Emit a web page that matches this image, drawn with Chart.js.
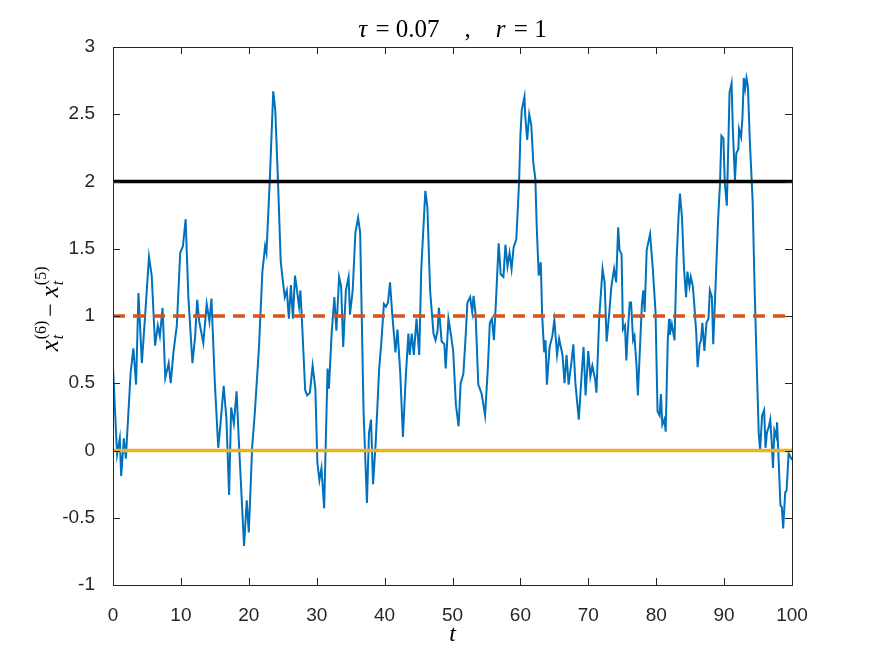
<!DOCTYPE html>
<html>
<head>
<meta charset="utf-8">
<script src="https://cdn.jsdelivr.net/npm/chart.js@4.4.0/dist/chart.umd.min.js"></script>
<style>
  body { margin: 0; background: #ffffff; }
  #wrap { width: 875px; height: 657px; }
</style>
</head>
<body>
<div id="wrap"><canvas id="grafico" width="875" height="657"></canvas></div>
<script>
// datos
const tVals = [
  0, 0.6, 1, 1.2, 1.6, 1.9, 2.1, 2.6, 3.0, 3.4, 3.75, 4.25, 4.7, 5.3, 5.7, 6.2, 6.6, 6.9, 7.3, 7.7,
  8.2, 8.5, 8.9, 9.4, 9.9, 10.3, 10.7, 11.1, 11.7, 12.1, 12.4, 12.7, 13.3, 13.8, 14.2, 14.5, 15.0, 15.5, 15.8, 16.3,
  16.7, 17.1, 17.4, 17.8, 18.2, 18.6, 19.3, 19.7, 20.0, 20.5, 20.9, 21.5, 22.0, 22.4, 22.6, 23.1, 23.6, 23.9, 24.3, 24.7,
  24.9, 25.3, 25.6, 25.9, 26.2, 26.5, 26.8, 27.1, 27.4, 27.6, 27.9, 28.3, 28.6, 29.0, 29.4, 29.8, 30.1, 30.4, 30.7, 31.1,
  31.6, 31.8, 32.2, 32.6, 32.9, 33.3, 33.6, 33.9, 34.3, 34.7, 34.9, 35.3, 35.7, 36.1, 36.4, 36.9, 37.4, 37.7, 38.0, 38.3,
  38.7, 39.2, 39.5, 39.9, 40.2, 40.5, 40.8, 41.1, 41.6, 41.9, 42.3, 42.7, 43.1, 43.5, 43.7, 44.0, 44.3, 44.7, 45.1, 45.4,
  46.0, 46.3, 46.7, 47.2, 47.5, 47.8, 48.0, 48.4, 48.8, 49.0, 49.4, 49.8, 50.1, 50.5, 50.9, 51.2, 51.6, 51.9, 52.2, 52.6,
  52.9, 53.1, 53.4, 53.8, 54.3, 54.8, 55.2, 55.5, 55.8, 56.1, 56.4, 56.8, 57.1, 57.5, 57.8, 58.1, 58.4, 58.7, 59.0, 59.4,
  59.8, 60.0, 60.2, 60.6, 60.7, 61.0, 61.3, 61.6, 61.9, 62.2, 62.4, 62.7, 63.0, 63.2, 63.5, 63.7, 63.9, 64.3, 64.7, 65.0,
  65.4, 65.7, 66.2, 66.5, 66.8, 67.1, 67.5, 67.8, 68.1, 68.6, 69.0, 69.3, 69.6, 70.0, 70.3, 70.6, 71.0, 71.2, 71.6, 72.1,
  72.4, 72.7, 73.1, 73.4, 73.8, 74.1, 74.4, 74.6, 74.9, 75.1, 75.4, 75.6, 75.8, 76.1, 76.3, 76.6, 76.8, 77.1, 77.3, 77.7,
  77.9, 78.1, 78.3, 78.6, 79.1, 79.5, 79.9, 80.2, 80.5, 80.7, 80.9, 81.2, 81.4, 81.7, 81.9, 82.0, 82.3, 82.7, 83.0, 83.3,
  83.5, 83.8, 84.1, 84.4, 84.6, 84.9, 85.1, 85.4, 85.6, 85.9, 86.1, 86.4, 86.6, 86.8, 87.1, 87.4, 87.7, 87.9, 88.2, 88.4,
  88.8, 89.1, 89.4, 89.6, 89.9, 90.1, 90.4, 90.6, 90.8, 91.1, 91.3, 91.6, 91.8, 92.1, 92.2, 92.5, 92.7, 92.9, 93.1, 93.3,
  93.5, 93.8, 94.2, 94.5, 94.9, 95.1, 95.3, 95.6, 95.9, 96.1, 96.3, 96.6, 96.8, 97.0, 97.2, 97.4, 97.7, 97.8, 98.0, 98.3,
  98.5, 98.7, 99.0, 99.2, 99.5, 99.8, 100
];
const diffVals = [
  0.62, -0.03, 0.09, -0.19, 0.09, -0.06, 0.13, 0.58, 0.76, 0.49, 1.17, 0.65, 0.98, 1.44, 1.30, 0.78, 0.93, 0.85, 1.06, 0.54,
  0.65, 0.50, 0.73, 0.93, 1.47, 1.52, 1.72, 1.14, 0.65, 0.85, 1.12, 0.96, 0.80, 1.09, 0.96, 1.13, 0.50, 0.02, 0.18, 0.48,
  0.24, -0.33, 0.32, 0.20, 0.44, 0.00, -0.71, -0.37, -0.61, 0.03, 0.29, 0.77, 1.33, 1.52, 1.47, 2.02, 2.67, 2.53, 2.00, 1.41,
  1.31, 1.14, 1.19, 0.98, 1.23, 0.98, 1.30, 1.19, 1.07, 1.19, 0.89, 0.45, 0.41, 0.43, 0.63, 0.46, -0.09, -0.22, -0.13, -0.43,
  0.61, 0.46, 0.87, 1.14, 0.89, 1.29, 1.22, 0.77, 1.19, 1.29, 1.01, 1.19, 1.62, 1.73, 1.62, 0.29, -0.39, 0.13, 0.23, -0.25,
  0.07, 0.61, 0.79, 1.09, 1.07, 1.10, 1.25, 1.03, 0.73, 0.90, 0.58, 0.10, 0.53, 0.87, 0.71, 0.87, 0.71, 0.98, 0.71, 1.35,
  1.93, 1.81, 1.19, 0.87, 0.82, 0.89, 1.06, 0.81, 0.79, 0.61, 0.98, 0.85, 0.74, 0.34, 0.18, 0.50, 0.57, 0.82, 1.10, 1.14,
  1.03, 1.15, 1.01, 0.49, 0.42, 0.26, 0.61, 0.95, 0.98, 0.82, 1.11, 1.54, 1.31, 1.29, 1.53, 1.37, 1.47, 1.35, 1.51, 1.57,
  1.99, 2.34, 2.53, 2.63, 2.50, 2.31, 2.50, 2.42, 2.14, 2.02, 1.67, 1.30, 1.40, 1.01, 0.73, 0.82, 0.49, 0.77, 0.85, 0.97,
  0.71, 0.83, 0.71, 0.50, 0.71, 0.49, 0.65, 0.79, 0.50, 0.23, 0.55, 0.77, 0.41, 0.74, 0.55, 0.63, 0.53, 0.43, 0.98, 1.35,
  1.25, 0.81, 1.03, 1.22, 1.35, 1.25, 1.66, 1.49, 1.46, 0.90, 0.93, 0.67, 0.87, 1.10, 1.10, 0.82, 0.85, 0.63, 0.41, 0.87,
  1.09, 1.19, 1.03, 1.49, 1.61, 1.35, 1.03, 0.29, 0.26, 0.42, 0.19, 0.23, 0.14, 0.82, 0.98, 0.86, 0.94, 0.82, 1.41, 1.75,
  1.91, 1.73, 1.35, 1.14, 1.33, 1.22, 1.29, 1.22, 1.09, 0.87, 0.62, 0.79, 0.82, 0.95, 0.74, 0.95, 0.98, 1.19, 1.14, 0.79,
  1.30, 1.70, 1.99, 2.34, 2.32, 1.99, 1.82, 2.23, 2.66, 2.73, 2.37, 2.01, 2.21, 2.24, 2.39, 2.33, 2.47, 2.77, 2.69, 2.77,
  2.71, 2.29, 1.86, 1.19, 0.47, 0.13, 0.00, 0.26, 0.30, 0.02, 0.13, 0.18, 0.23, 0.07, -0.13, 0.15, 0.10, 0.21, -0.03, -0.41,
  -0.42, -0.58, -0.31, -0.30, -0.02, -0.05, -0.07
];

// lineas de referencia (y = 2, 1, 0)
const refLevels = [2, 1, 0];
const xTicks = [0, 10, 20, 30, 40, 50, 60, 70, 80, 90, 100];
const yTicks = [-1, -0.5, 0, 0.5, 1, 1.5, 2, 2.5, 3];

const AXIS_COLOR = '#262626';
const serie = tVals.map((t, i) => ({ x: t, y: diffVals[i] }));
const linea = v => [{ x: 0, y: v }, { x: 100, y: v }];

// dibuja un texto con partes en cursiva / sub / superindice
function drawRuns(ctx, runs, x, y) {
  let cx = x;
  runs.forEach(r => {
    ctx.font = (r.i ? 'italic ' : '') + r.size + 'px "Liberation Serif", "DejaVu Serif", serif';
    ctx.fillText(r.t, cx, y + (r.dy || 0));
    if (!r.stack) cx += ctx.measureText(r.t).width + (r.gap || 0);
  });
  return cx - x;
}
function runsWidth(ctx, runs) {
  let w = 0;
  runs.forEach(r => {
    ctx.font = (r.i ? 'italic ' : '') + r.size + 'px "Liberation Serif", "DejaVu Serif", serif';
    if (!r.stack) w += ctx.measureText(r.t).width + (r.gap || 0);
  });
  return w;
}

// ejes estilo matlab: caja y marcas hacia dentro
const ejesPlugin = {
  id: 'ejes',
  afterDatasetsDraw(chart) {
    const { ctx, chartArea: a, scales } = chart;
    ctx.save();
    ctx.strokeStyle = AXIS_COLOR;
    ctx.lineWidth = 1;
    ctx.beginPath();
    const L = 7;
    xTicks.forEach(v => {
      const px = Math.round(scales.x.getPixelForValue(v)) + 0.5;
      ctx.moveTo(px, a.bottom); ctx.lineTo(px, a.bottom - L);
      ctx.moveTo(px, a.top); ctx.lineTo(px, a.top + L);
    });
    yTicks.forEach(v => {
      const py = Math.round(scales.y.getPixelForValue(v)) + 0.5;
      ctx.moveTo(a.left, py); ctx.lineTo(a.left + L, py);
      ctx.moveTo(a.right, py); ctx.lineTo(a.right - L, py);
    });
    ctx.stroke();
    ctx.strokeRect(Math.round(a.left) + 0.5, Math.round(a.top) + 0.5,
      Math.round(a.right - a.left), Math.round(a.bottom - a.top));
    ctx.restore();
  },
  afterDraw(chart) {
    const { ctx, chartArea: a } = chart;
    const cx = (a.left + a.right) / 2;
    ctx.save();
    ctx.fillStyle = '#000';
    ctx.textBaseline = 'alphabetic';
    ctx.textAlign = 'left';

    // titulo
    const titulo = [
      { t: 'τ', i: true, size: 25, gap: 2 },
      { t: ' = 0.07', size: 25 },
      { t: '    ,    ', size: 25 },
      { t: 'r', i: true, size: 25, gap: 2 },
      { t: ' = 1', size: 25 }
    ];
    const wt = runsWidth(ctx, titulo);
    drawRuns(ctx, titulo, cx - wt / 2, 37);

    // etiqueta x
    ctx.font = 'italic 24px "Liberation Serif", "DejaVu Serif", serif';
    ctx.textAlign = 'center';
    ctx.fillText('t', cx, 641);
    ctx.textAlign = 'left';

    // etiqueta y (rotada)
    const etiqueta = [
      { t: 'x', i: true, size: 25, gap: 1 },
      { t: '(6)', size: 16, dy: -12, stack: true },
      { t: 't', i: true, size: 16, dy: 5, gap: 12 },
      { t: ' − ', size: 24 },
      { t: 'x', i: true, size: 25, gap: 1 },
      { t: '(5)', size: 16, dy: -12, stack: true },
      { t: 't', i: true, size: 16, dy: 5 }
    ];
    const wy = runsWidth(ctx, etiqueta);
    const cy = (a.top + a.bottom) / 2;
    ctx.translate(58, cy);
    ctx.rotate(-Math.PI / 2);
    drawRuns(ctx, etiqueta, -wy / 2, 0);
    ctx.restore();
  }
};

document.addEventListener('DOMContentLoaded', function () {
  const ctx = document.getElementById('grafico').getContext('2d');
  new Chart(ctx, {
    type: 'line',
    data: {
      datasets: [
        { data: serie, borderColor: '#0072BD', borderWidth: 2, pointRadius: 0, tension: 0, order: 4 },
        { data: linea(refLevels[0]), borderColor: '#000000', borderWidth: 3.5, pointRadius: 0, order: 3 },
        { data: linea(refLevels[1]), borderColor: '#D95319', borderWidth: 3.5, borderDash: [12, 8], pointRadius: 0, order: 2 },
        { data: linea(refLevels[2]), borderColor: '#EDB120', borderWidth: 3.5, pointRadius: 0, order: 1 }
      ]
    },
    options: {
      responsive: false,
      animation: false,
      layout: { padding: { left: 0, top: 47, right: 83, bottom: 0 } },
      plugins: { legend: { display: false }, tooltip: { enabled: false }, title: { display: false } },
      scales: {
        x: {
          type: 'linear', min: 0, max: 100,
          afterFit: s => { s.height = 72; },
          afterBuildTicks: s => { s.ticks = xTicks.map(v => ({ value: v })); },
          ticks: { color: AXIS_COLOR, font: { family: '"Liberation Sans", Arial, sans-serif', size: 19 }, padding: 11, maxRotation: 0 },
          grid: { display: false },
          border: { display: false }
        },
        y: {
          min: -1, max: 3,
          afterFit: s => { s.width = 113; },
          afterBuildTicks: s => { s.ticks = yTicks.map(v => ({ value: v })); },
          ticks: { color: AXIS_COLOR, font: { family: '"Liberation Sans", Arial, sans-serif', size: 19 }, padding: 10,
            callback: v => String(v) },
          grid: { display: false },
          border: { display: false }
        }
      }
    },
    plugins: [ejesPlugin]
  });
});
</script>
</body>
</html>
